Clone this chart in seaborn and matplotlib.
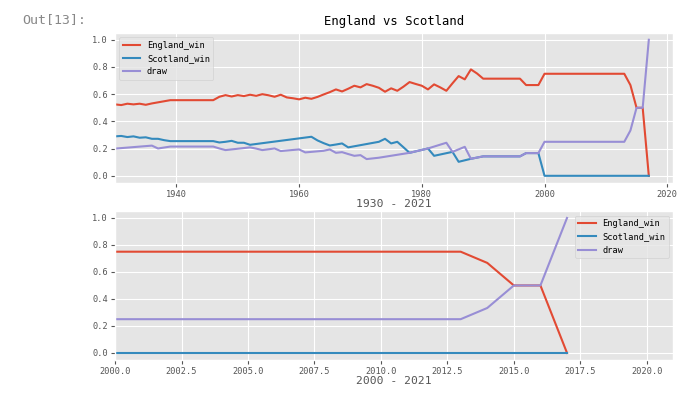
import matplotlib
matplotlib.use("Agg")
import matplotlib.pyplot as plt
import seaborn as sns
import pandas as pd

# England share per year
eng_years = [1930, 1931, 1932, 1933, 1934, 1935, 1936, 1937, 1938, 1939,
             1946, 1947, 1948, 1949, 1950, 1951, 1952, 1953, 1954, 1955,
             1956, 1957, 1958, 1959, 1960, 1961, 1962, 1963, 1964, 1965,
             1966, 1967, 1968, 1969, 1970, 1971, 1972, 1973, 1974, 1975,
             1976, 1977, 1978, 1979, 1980, 1981, 1982, 1983, 1984, 1985,
             1986, 1987, 1988, 1989, 1990, 1996, 1997, 1999, 2000, 2013,
             2014, 2015, 2016, 2017]
eng_win = [0.525, 0.520, 0.530, 0.525, 0.530, 0.522, 0.532, 0.540, 0.548, 0.556,
           0.556, 0.581, 0.593, 0.583, 0.593, 0.586, 0.596, 0.588, 0.600, 0.592,
           0.581, 0.596, 0.576, 0.570, 0.562, 0.574, 0.566, 0.580, 0.598, 0.615,
           0.635, 0.620, 0.640, 0.662, 0.650, 0.674, 0.662, 0.647, 0.618, 0.643,
           0.625, 0.655, 0.689, 0.675, 0.662, 0.635, 0.672, 0.650, 0.625, 0.680,
           0.733, 0.709, 0.782, 0.752, 0.714, 0.714, 0.667, 0.667, 0.750, 0.750,
           0.667, 0.500, 0.500, 0.000]

sco_years = [1930, 1931, 1932, 1933, 1934, 1935, 1936, 1937, 1938, 1939,
             1946, 1947, 1948, 1949, 1950, 1951, 1952, 1962, 1963, 1964,
             1965, 1966, 1967, 1968, 1973, 1974, 1975, 1976, 1977, 1978,
             1981, 1982, 1985, 1986, 1988, 1990, 1996, 1997, 1999, 2000,
             2017]
sco_win = [0.290, 0.293, 0.285, 0.290, 0.280, 0.283, 0.272, 0.272, 0.262, 0.255,
           0.255, 0.245, 0.250, 0.257, 0.243, 0.243, 0.228, 0.287, 0.260, 0.240,
           0.223, 0.230, 0.238, 0.209, 0.250, 0.272, 0.238, 0.250, 0.210, 0.169,
           0.201, 0.147, 0.176, 0.103, 0.125, 0.143, 0.143, 0.167, 0.167, 0.000,
           0.000]

draw_years = [1930, 1936, 1937, 1939, 1946, 1947, 1948, 1952, 1953, 1954,
              1955, 1956, 1957, 1960, 1961, 1963, 1964, 1965, 1966, 1967,
              1968, 1969, 1970, 1971, 1972, 1973, 1978, 1981, 1984, 1985,
              1987, 1988, 1990, 1996, 1997, 1999, 2000, 2013, 2014, 2015,
              2016, 2017]
draw = [0.200, 0.222, 0.201, 0.215, 0.215, 0.201, 0.189, 0.209, 0.200, 0.189,
        0.195, 0.201, 0.182, 0.194, 0.172, 0.180, 0.184, 0.194, 0.169, 0.174,
        0.160, 0.147, 0.152, 0.123, 0.128, 0.133, 0.169, 0.201, 0.243, 0.176,
        0.213, 0.125, 0.143, 0.143, 0.167, 0.167, 0.250, 0.250, 0.333, 0.500,
        0.500, 1.000]

series = [("England_win", eng_years, eng_win),
          ("Scotland_win", sco_years, sco_win),
          ("draw", draw_years, draw)]
colors = ["#E24A33", "#348ABD", "#988ED5"]

plt.style.use("ggplot")
plt.rcParams["font.family"] = ["DejaVu Sans Mono", "Noto Sans CJK SC"]

fig = plt.figure(figsize=(6.85, 3.97), dpi=100)
ax1 = fig.add_axes([0.168, 0.540, 0.815, 0.377])
ax2 = fig.add_axes([0.168, 0.094, 0.815, 0.374])

for ax, lo in [(ax1, 1930), (ax2, 2000)]:
    for (name, yrs, vals), c in zip(series, colors):
        d = pd.DataFrame({"year": yrs, "value": vals})
        d = d[d["year"] >= lo]
        sns.lineplot(data=d, x="year", y="value", ax=ax, color=c, label=name,
                     linewidth=1.5)
    ax.set_xlim(lo, 2021)
    ax.set_ylabel("")
    ax.tick_params(labelsize=6.2, pad=2, length=3)

ax1.set_xlabel("1930 - 2021", fontsize=8.2, labelpad=0)
ax2.set_xlabel("2000 - 2021", fontsize=8.2, labelpad=0)
ax1.set_title("England vs Scotland", fontsize=8.8, color="black", pad=6)
ax1.legend(loc="upper left", fontsize=6.2)
ax2.legend(loc="upper right", fontsize=6.2)

fig.text(0.032, 0.952, "Out[13]:", fontsize=9.5, color="#888888", va="center")

fig.savefig("out.png", dpi=100)
